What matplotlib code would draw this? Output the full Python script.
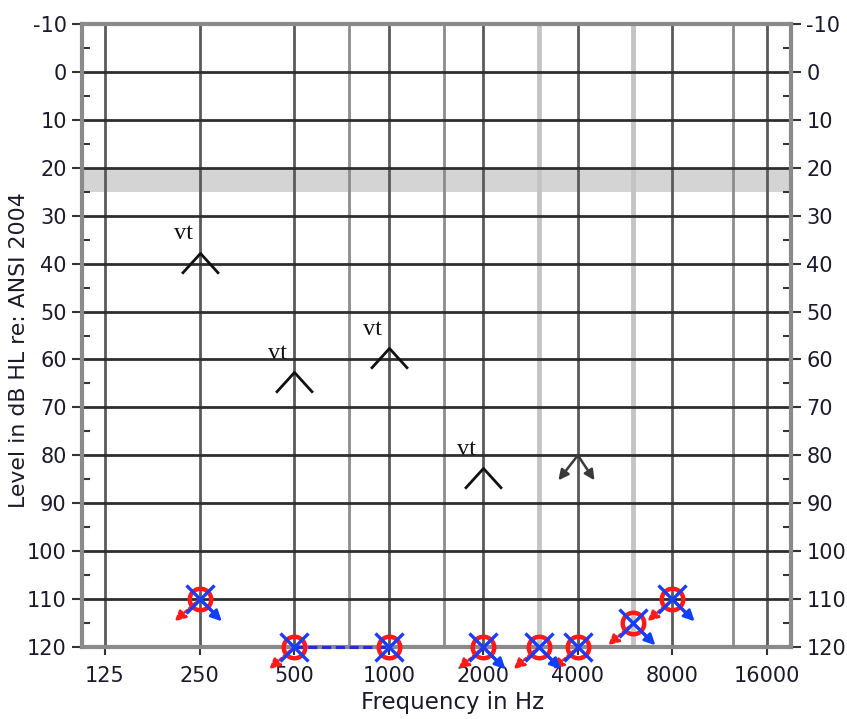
import matplotlib
matplotlib.use('Agg')
import matplotlib.pyplot as plt
from matplotlib.path import Path
from matplotlib.transforms import offset_copy

plt.rcParams['font.family'] = ['DejaVu Sans']
plt.rcParams['axes.unicode_minus'] = False

# ---------------- data ----------------
freq_ticks = [125, 250, 500, 1000, 2000, 4000, 8000, 16000]
freq_tick_labels = ['125', '250', '500', '1000', '2000', '4000', '8000', '16000']
db_ticks = list(range(-10, 121, 10))
db_minor_ticks = list(range(-5, 120, 10))

grid_main_freqs = [125, 250, 500, 1000, 2000, 4000, 8000, 16000]
grid_mid_freqs = [750, 1500, 12500]
grid_light_freqs = [3000, 6000]

normal_band = (20, 25)

# right ear air conduction (O), no response
right_freqs = [250, 500, 1000, 2000, 3000, 4000, 6000, 8000]
right_db = [110, 120, 120, 120, 120, 120, 115, 110]
right_arrow = [True, True, False, True, True, True, True, True]

# left ear air conduction (X), no response
left_freqs = [250, 500, 1000, 2000, 3000, 4000, 6000, 8000]
left_db = [110, 120, 120, 120, 120, 120, 115, 110]
left_arrow = [True, False, False, True, True, False, True, True]
left_connect = [(500, 1000)]

# vibrotactile responses
vt_freqs = [250, 500, 1000, 2000]
vt_db = [40, 65, 60, 85]
vt_labels = ['vt', 'vt', 'vt', 'vt']

# bone conduction no response
bc_nr_freqs = [4000]
bc_nr_db = [80]

# ---------------- figure ----------------
fig = plt.figure(figsize=(8.47, 7.19), dpi=100)
ax = fig.add_axes([82 / 847, 1 - 647 / 719, (791 - 82) / 847, (647 - 24) / 719])
ax.set_xscale('log', base=2)
ax.set_xlim(105.6, 19080)
ax.set_ylim(120, -10)

ax.axhspan(*normal_band, color='#d4d4d4', zorder=0, lw=0)
for f in grid_light_freqs:
    ax.axvline(f, color='#c4c4c4', lw=3.5, zorder=1)
for f in grid_mid_freqs:
    ax.axvline(f, color='#8c8c8c', lw=2, zorder=1)
for f in grid_main_freqs:
    ax.axvline(f, color='#5a5a5a', lw=2, zorder=1)
for d in db_ticks:
    ax.axhline(d, color='#2e2e2e', lw=2, zorder=1.5)

for s in ax.spines.values():
    s.set_color('#8a8a8a')
    s.set_linewidth(3)
    s.set_zorder(2)

ax.set_xticks(freq_ticks)
ax.set_xticklabels(freq_tick_labels)
ax.xaxis.set_minor_locator(matplotlib.ticker.NullLocator())
ax.set_yticks(db_ticks)
ax.set_yticks(db_minor_ticks, minor=True)
ax.tick_params(axis='y', which='major', direction='out', length=7, width=1.5,
               color='#333333', left=True, right=True, labelleft=True,
               labelright=True, labelsize=15, pad=4, labelcolor='#1a1a2a')
ax.tick_params(axis='y', which='minor', direction='in', length=6, width=1.5,
               color='#333333', left=True, right=True)
ax.tick_params(axis='x', which='major', direction='out', length=6, width=1.5,
               color='#333333', labelsize=15, pad=8, labelcolor='#1a1a2a')

ax.set_xlabel('Frequency in Hz', fontsize=16.5, color='#1a1a2a', va='top')
ax.xaxis.set_label_coords(0.522, -0.071)
fig.text(19 / 847, 1 - 350 / 719, 'Level in dB HL re: ANSI 2004', rotation=90,
         ha='center', va='center', fontsize=15.8, color='#1a1a2a')

# vibrotactile chevrons
chev = Path([(-1, -0.5), (0, 0.6), (1, -0.5)],
            [Path.MOVETO, Path.LINETO, Path.LINETO])
ax.plot(vt_freqs, vt_db, ls='none', marker=chev, ms=26.5, mfc='none',
        mec='#111111', mew=2, zorder=4, clip_on=False)
for f, d, t in zip(vt_freqs, vt_db, vt_labels):
    ax.annotate(t, (f, d), xytext=(-5, 17.5), textcoords='offset points',
                ha='right', va='baseline', fontsize=17.5,
                family=['Liberation Serif', 'DejaVu Serif'], color='#111111',
                zorder=5)

# bone no-response symbol
for f, d in zip(bc_nr_freqs, bc_nr_db):
    for dx in (-14, 12):
        ax.annotate('', xy=(f, d), xycoords=offset_copy(ax.transData, fig=fig, x=dx, y=-18, units='points'),
                    xytext=(f, d), textcoords='data',
                    arrowprops=dict(arrowstyle='-|>', color='#3a3a3a', lw=1.8,
                                    mutation_scale=15, shrinkA=0, shrinkB=0),
                    zorder=4, annotation_clip=False)

# connecting line
for a, b in left_connect:
    ia, ib = left_freqs.index(a), left_freqs.index(b)
    ax.plot([a, b], [left_db[ia], left_db[ib]], color='#2a2ad0', lw=2.2,
            ls=(0, (3, 1.5)), zorder=3, clip_on=False)

# no-response arrows
for f, d, has in zip(right_freqs, right_db, right_arrow):
    if has:
        ax.annotate('', xy=(f, d), xycoords=offset_copy(ax.transData, fig=fig, x=-18, y=-16, units='points'),
                    xytext=(f, d), textcoords='data',
                    arrowprops=dict(arrowstyle='-|>', color='#ff1a1a', lw=1.8,
                                    ls=(0, (1.2, 1.0)), mutation_scale=16,
                                    shrinkA=0, shrinkB=0),
                    zorder=3.2, annotation_clip=False)
for f, d, has in zip(left_freqs, left_db, left_arrow):
    if has:
        ax.annotate('', xy=(f, d), xycoords=offset_copy(ax.transData, fig=fig, x=16, y=-16, units='points'),
                    xytext=(f, d), textcoords='data',
                    arrowprops=dict(arrowstyle='-|>', color='#1040ff', lw=2.0,
                                    mutation_scale=16, shrinkA=0, shrinkB=0),
                    zorder=3.4, annotation_clip=False)

ax.plot(right_freqs, right_db, ls='none', marker='o', ms=15.5, mfc='none',
        mec='#ff1a1a', mew=3.2, zorder=5, clip_on=False)
ax.plot(left_freqs, left_db, ls='none', marker='x', ms=19.5, mec='#1a3cff',
        mew=2.4, zorder=6, clip_on=False)

fig.savefig('out.png', dpi=100)
